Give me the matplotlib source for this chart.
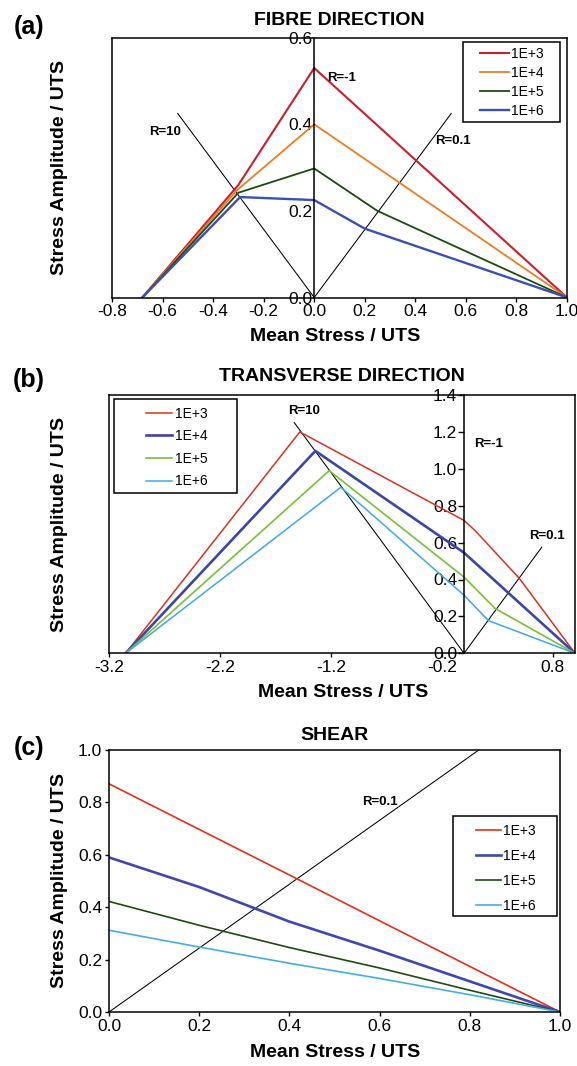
import matplotlib
matplotlib.use('Agg')
import matplotlib.pyplot as plt
from matplotlib.patches import Rectangle

plt.rcParams['font.family'] = ['Liberation Sans', 'DejaVu Sans']
plt.rcParams['axes.unicode_minus'] = False

labels = ['1E+3', '1E+4', '1E+5', '1E+6']

# (a) fibre direction
fib_x_1e3 = [-0.68, -0.30, 0.0, 1.0]
fib_y_1e3 = [0.0, 0.26, 0.53, 0.0]
fib_x_1e4 = [-0.68, -0.305, 0.0, 1.0]
fib_y_1e4 = [0.0, 0.248, 0.40, 0.0]
fib_x_1e5 = [-0.68, -0.30, 0.0, 0.25, 1.0]
fib_y_1e5 = [0.0, 0.242, 0.298, 0.20, 0.0]
fib_x_1e6 = [-0.68, -0.293, 0.0, 0.20, 1.0]
fib_y_1e6 = [0.0, 0.232, 0.225, 0.159, 0.0]
fib_r10 = ([0.0, -0.54], [0.0, 0.425])
fib_r01 = ([0.0, 0.542], [0.0, 0.425])

# (b) transverse direction
tr_x_1e3 = [-3.05, -1.48, 0.0, 0.10, 0.50, 1.0]
tr_y_1e3 = [0.0, 1.20, 0.72, 0.665, 0.405, 0.0]
tr_x_1e4 = [-3.05, -1.34, 0.0, 1.0]
tr_y_1e4 = [0.0, 1.097, 0.545, 0.0]
tr_x_1e5 = [-3.05, -1.215, 0.0, 0.28, 1.0]
tr_y_1e5 = [0.0, 0.99, 0.413, 0.243, 0.0]
tr_x_1e6 = [-3.05, -1.11, 0.0, 0.22, 1.0]
tr_y_1e6 = [0.0, 0.90, 0.315, 0.177, 0.0]
tr_r10 = ([0.0, -1.53], [0.0, 1.25])
tr_r01 = ([0.0, 0.70], [0.0, 0.575])

# (c) shear
sh_x = [0.0, 0.2, 0.4, 0.6, 0.8, 1.0]
sh_1e3 = [0.871, 0.697, 0.523, 0.348, 0.174, 0.0]
sh_1e4 = [0.59, 0.477, 0.345, 0.234, 0.117, 0.0]
sh_1e5 = [0.422, 0.331, 0.246, 0.168, 0.083, 0.0]
sh_1e6 = [0.312, 0.248, 0.186, 0.128, 0.066, 0.0]
sh_r01 = ([0.0, 0.82], [0.0, 1.0])


def style(ax, xticks, yticks, xlim, ylim, yaxis_at_zero):
    ax.set_xlim(*xlim)
    ax.set_ylim(*ylim)
    ax.set_xticks(xticks)
    ax.set_xticklabels(['%.1f' % v for v in xticks])
    ax.set_yticks(yticks)
    ax.set_yticklabels(['%.1f' % v for v in yticks])
    for s in ax.spines.values():
        s.set_linewidth(1.1)
    ax.tick_params(labelsize=12.5, width=1.0, length=3, direction='out', pad=2)
    if yaxis_at_zero:
        ax.spines['left'].set_position(('data', 0))
        ax.plot([0, 0], [0, 1], transform=ax.transAxes, color='k', lw=1.1, clip_on=False)
    ax.set_xlabel('Mean Stress / UTS', fontsize=14, fontweight='bold', va='center')
    ax.set_ylabel('Stress Amplitude / UTS', fontsize=14, fontweight='bold', va='center')


def legend_box(ax, x0, y0, x1, y1, hx, hy, ls, hl, htp):
    ax.legend(frameon=False, loc='upper left', bbox_to_anchor=(hx, hy), borderaxespad=0,
              borderpad=0, fontsize=10, labelspacing=ls, handlelength=hl, handletextpad=htp)
    ax.add_patch(Rectangle((x0, y0), x1 - x0, y1 - y0, transform=ax.transAxes, fill=False,
                           ec='k', lw=1.1, clip_on=False, zorder=5))


fig = plt.figure(figsize=(5.77, 10.66), dpi=100)

# ---- (a)
ax = fig.add_axes([112 / 577, 1 - 297.5 / 1066, 455 / 577, 259.8 / 1066])
ax.plot(*fib_r10, color='k', lw=0.75)
ax.plot(*fib_r01, color='k', lw=0.75)
ax.plot(fib_x_1e3, fib_y_1e3, color='#cc1f2b', lw=1.5, label=labels[0])
ax.plot(fib_x_1e4, fib_y_1e4, color='#ee7d22', lw=1.3, label=labels[1])
ax.plot(fib_x_1e5, fib_y_1e5, color='#1e4a12', lw=1.3, label=labels[2])
ax.plot(fib_x_1e6, fib_y_1e6, color='#3c4fb4', lw=1.7, label=labels[3])
style(ax, [-0.8, -0.6, -0.4, -0.2, 0.0, 0.2, 0.4, 0.6, 0.8, 1.0], [0.0, 0.2, 0.4, 0.6],
      (-0.8, 1.0), (0, 0.6), True)
ax.tick_params(axis='y', length=0, pad=1)
ax.text(-0.589, 0.383, 'R=10', fontsize=9.5, fontweight='bold', ha='center', va='center')
ax.text(0.109, 0.508, 'R=-1', fontsize=9.5, fontweight='bold', ha='center', va='center')
ax.text(0.549, 0.361, 'R=0.1', fontsize=9.5, fontweight='bold', ha='center', va='center')
ax.set_title('FIBRE DIRECTION', fontsize=14, fontweight='bold', pad=9)
ax.yaxis.set_label_coords(-0.1156, 0.5)
ax.xaxis.set_label_coords(0.491, -0.152)
legend_box(ax, 0.771, 0.677, 0.985, 0.985, 0.809, 0.966, 0.37, 2.1, 0.15)
fig.text(29 / 577, 1 - 26.7 / 1066, '(a)', fontsize=18, fontweight='bold', ha='center', va='center')

# ---- (b)
ax = fig.add_axes([109 / 577, 1 - 653.3 / 1066, 466 / 577, 258.3 / 1066])
ax.plot(*tr_r10, color='k', lw=0.75)
ax.plot(*tr_r01, color='k', lw=0.75)
ax.plot(tr_x_1e3, tr_y_1e3, color='#d9331f', lw=1.1, label=labels[0])
ax.plot(tr_x_1e4, tr_y_1e4, color='#3d46a6', lw=1.9, label=labels[1])
ax.plot(tr_x_1e5, tr_y_1e5, color='#79bf3a', lw=1.2, label=labels[2])
ax.plot(tr_x_1e6, tr_y_1e6, color='#3fa9e6', lw=1.1, label=labels[3])
style(ax, [-3.2, -2.2, -1.2, -0.2, 0.8], [0.0, 0.2, 0.4, 0.6, 0.8, 1.0, 1.2, 1.4],
      (-3.2, 1.0), (0, 1.4), True)
ax.tick_params(axis='y', length=4, pad=1)
ax.text(-1.443, 1.313, 'R=10', fontsize=9.5, fontweight='bold', ha='center', va='center')
ax.text(0.225, 1.133, 'R=-1', fontsize=9.5, fontweight='bold', ha='center', va='center')
ax.text(0.745, 0.638, 'R=0.1', fontsize=9.5, fontweight='bold', ha='center', va='center')
ax.set_title('TRANSVERSE DIRECTION', fontsize=14, fontweight='bold', pad=10)
ax.yaxis.set_label_coords((59.6 - 109) / 466, 0.5)
ax.xaxis.set_label_coords(0.5015, -0.150)
legend_box(ax, 0.0107, 0.622, 0.274, 0.983, 0.0788, 0.955, 0.62, 1.87, 0.24)
fig.text(29 / 577, 1 - 380 / 1066, '(b)', fontsize=18, fontweight='bold', ha='center', va='center')

# ---- (c)
ax = fig.add_axes([109 / 577, 1 - 1012 / 1066, 451 / 577, 262 / 1066])
ax.plot(*sh_r01, color='k', lw=0.75)
ax.plot(sh_x, sh_1e3, color='#e2311d', lw=1.2, label=labels[0])
ax.plot(sh_x, sh_1e4, color='#4246ad', lw=1.9, label=labels[1])
ax.plot(sh_x, sh_1e5, color='#1f4a14', lw=1.2, label=labels[2])
ax.plot(sh_x, sh_1e6, color='#46ace6', lw=1.2, label=labels[3])
style(ax, [0.0, 0.2, 0.4, 0.6, 0.8, 1.0], [0.0, 0.2, 0.4, 0.6, 0.8, 1.0],
      (0, 1.0), (0, 1.0), False)
ax.text(0.60, 0.80, 'R=0.1', fontsize=9.5, fontweight='bold', ha='center', va='center')
ax.set_title('SHEAR', fontsize=14, fontweight='bold', pad=7)
ax.yaxis.set_label_coords((59.6 - 109) / 451, 0.5)
ax.xaxis.set_label_coords(0.502, -0.156)
legend_box(ax, 0.762, 0.366, 0.994, 0.748, 0.814, 0.717, 0.78, 1.78, 0.19)
fig.text(29 / 577, 1 - 748 / 1066, '(c)', fontsize=18, fontweight='bold', ha='center', va='center')

fig.savefig('out.png', dpi=100)
